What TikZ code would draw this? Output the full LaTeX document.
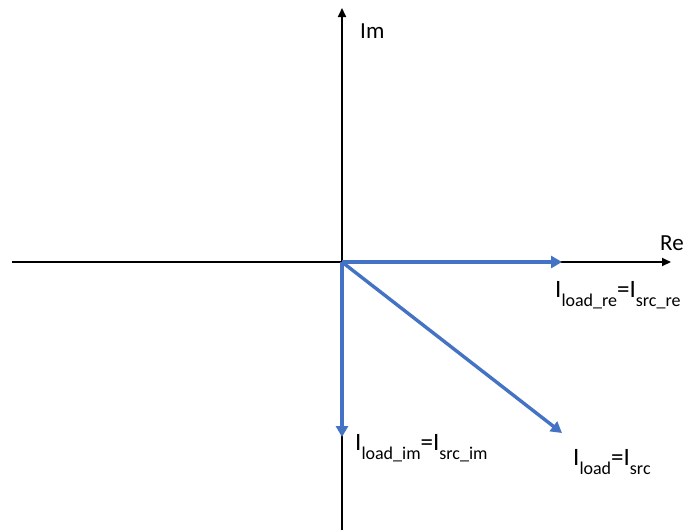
\documentclass[tikz,border=0pt]{standalone}
\usepackage{fontspec}
\setmainfont{Carlito}
\usetikzlibrary{arrows.meta}
\definecolor{vecblue}{HTML}{4472C4}
\newcommand{\lowsub}[1]{\raisebox{-9pt}{\fontsize{18}{18}\selectfont #1}}
\begin{document}
\begin{tikzpicture}[x=1pt,y=-1pt,
  axis/.style={draw=black,line width=1.8pt,-{Triangle[length=9pt,width=8pt]}},
  vec/.style={draw=vecblue,line width=3.4pt,-{Triangle[length=11pt,width=12pt]}},
  lbl/.style={anchor=base west,inner sep=0pt,font=\fontsize{23}{23}\selectfont},
  vlbl/.style={anchor=base west,inner sep=0pt,font=\fontsize{25}{25}\selectfont}]
\useasboundingbox (0,0) rectangle (688,531);
\coordinate (O) at (342,262);
\coordinate (xl) at (12,262);
\coordinate (xr) at (671,262);
\coordinate (yb) at (342,530);
\coordinate (yt) at (342,8);
\coordinate (vre) at (562,262);
\coordinate (vim) at (342,437);
\coordinate (vld) at (562,433);
\draw[axis] (xl) -- (xr);
\draw[axis] (yb) -- (yt);
\draw[vec] (O) -- (vre);
\draw[vec] (O) -- (vim);
\draw[vec] (O) -- (vld);
\node[lbl] (lim) at (360,38) {Im};
\node[lbl] (lre) at (660,250) {Re};
\node[vlbl] (l1) at (555,297) {I\lowsub{load\_re}=I\lowsub{src\_re}};
\node[vlbl] (l2) at (355,450) {I\lowsub{load\_im}=I\lowsub{src\_im}};
\node[vlbl] (l3) at (573,465) {I\lowsub{load}=I\lowsub{src}};
\end{tikzpicture}
\end{document}
